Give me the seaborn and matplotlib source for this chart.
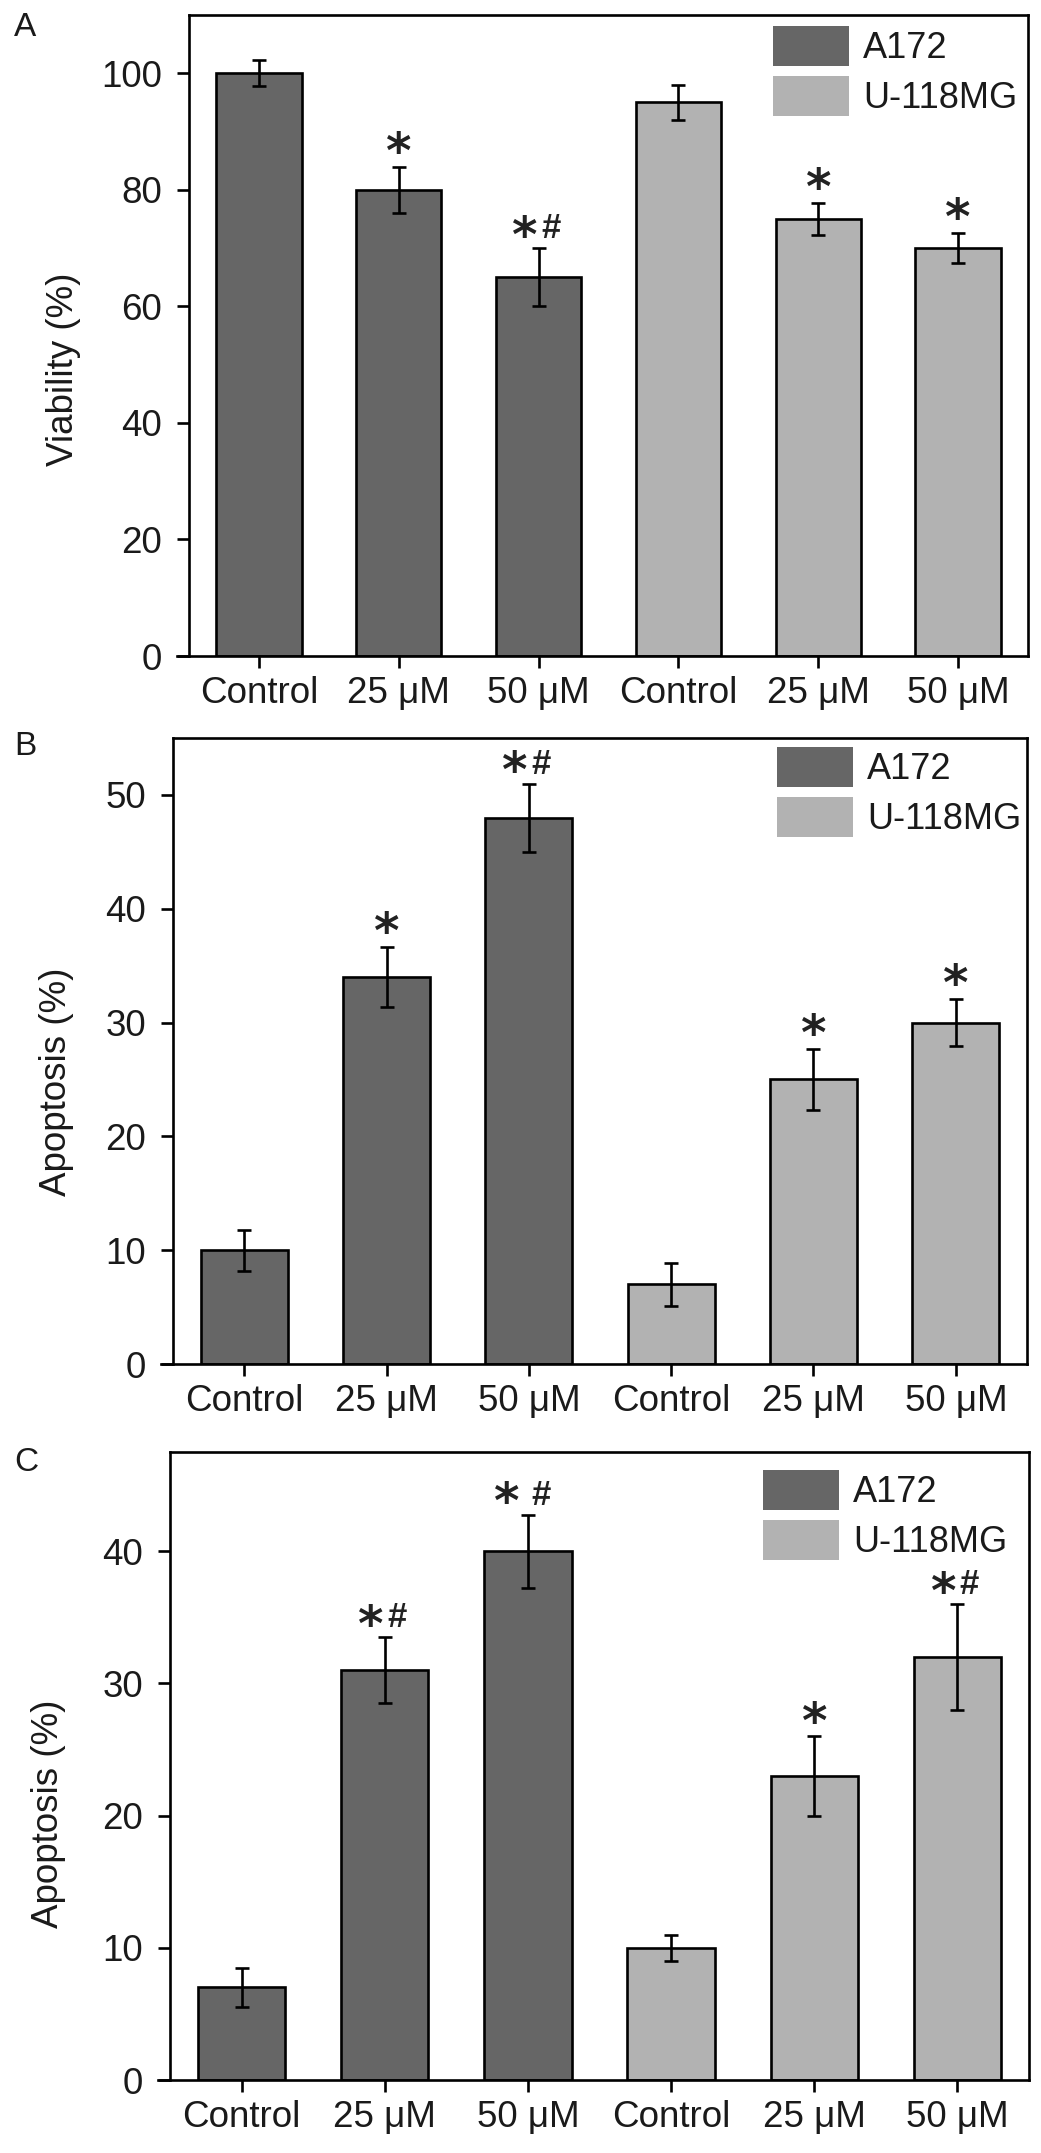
import numpy as np
import pandas as pd
import matplotlib
matplotlib.use("Agg")
import matplotlib.pyplot as plt
from matplotlib.patches import Patch
import seaborn as sns

# data
conditions = ["Control", "25 μM", "50 μM", "Control", "25 μM", "50 μM"]
cell_lines = ["A172", "A172", "A172", "U-118MG", "U-118MG", "U-118MG"]

viability = [100, 80, 65, 95, 75, 70]
viability_err = [2.2, 4, 5, 3, 2.8, 2.6]
viability_marks = ["", "*", "*#", "", "*", "*"]

apoptosis_b = [10, 34, 48, 7, 25, 30]
apoptosis_b_err = [1.8, 2.65, 3, 1.9, 2.7, 2.1]
apoptosis_b_marks = ["", "*", "*#", "", "*", "*"]

apoptosis_c = [7, 31, 40, 10, 23, 32]
apoptosis_c_err = [1.5, 2.5, 2.75, 1, 3, 4]
apoptosis_c_marks = ["", "*#", "* #", "", "*", "*#"]

dark = "#666666"
light = "#b2b2b2"
palette = {"A172": dark, "U-118MG": light}

sns.set_style("white")
plt.rcParams["font.family"] = ["Liberation Sans", "DejaVu Sans"]

W, H = 1041, 2153
fig = plt.figure(figsize=(W / 100, H / 100), dpi=100)


def px_axes(left, right, top, bottom):
    return fig.add_axes([left / W, 1 - bottom / H, (right - left) / W, (bottom - top) / H])


def panel(ax, values, errs, marks, ylim, yticks, ylabel, label_xy, legend_xy):
    df = pd.DataFrame({
        "key": [f"{c}|{i}" for i, c in enumerate(conditions)],
        "value": values,
        "cell": cell_lines,
    })
    sns.barplot(data=df, x="key", y="value", hue="cell", dodge=False,
                palette=palette, edgecolor="black", linewidth=1.9,
                width=0.61, legend=False, ax=ax)
    ax.errorbar(np.arange(len(values)), values, yerr=errs, fmt="none",
                ecolor="black", elinewidth=1.9, capsize=4.7, capthick=1.9, zorder=5)

    # significance marks
    star_kw = dict(textcoords="offset points", ha="center", va="baseline",
                   fontsize=35, fontweight="bold", family="DejaVu Sans", color="#222222")
    for i, (v, e, m) in enumerate(zip(values, errs, marks)):
        if not m:
            continue
        top = v + e
        if "#" in m:
            dx_star, dx_hash = (-21, 13) if " " in m else (-14, 12)
            ax.annotate("*", (i, top), xytext=(dx_star * 0.72, -2.5), **star_kw)
            ax.annotate("#", (i, top), xytext=(dx_hash * 0.72, 7), textcoords="offset points",
                        ha="center", va="baseline", fontsize=25, fontweight="bold",
                        color="#222222")
        else:
            ax.annotate("*", (i, top), xytext=(0, -1), **star_kw)

    ax.set_xlim(-0.5, 5.5)
    ax.set_ylim(*ylim)
    ax.set_yticks(yticks)
    ax.set_xticks(np.arange(len(conditions)))
    ax.set_xticklabels(conditions)
    ax.set_xlabel("")
    ax.set_ylabel(ylabel, fontsize=26.5, va="center", color="#1a1a1a")
    ax.yaxis.set_label_coords(*label_xy)

    for s in ax.spines.values():
        s.set_visible(True)
        s.set_linewidth(1.9)
        s.set_color("black")
    ax.spines["bottom"].set_bounds(-0.5 - 12 / 142, 5.5)
    ax.tick_params(axis="both", direction="out", length=8.6, width=1.9,
                   labelsize=26.5, color="black", labelcolor="#1a1a1a",
                   bottom=True, left=True, top=False, right=False)
    ax.tick_params(axis="y", pad=11)
    ax.tick_params(axis="x", pad=6)

    handles = [Patch(facecolor=dark, edgecolor="none"),
               Patch(facecolor=light, edgecolor="none")]
    ax.legend(handles, ["A172", "U-118MG"], loc="upper left", bbox_to_anchor=legend_xy,
              frameon=False, fontsize=26, handlelength=2.1, handleheight=1.33,
              handletextpad=0.4, labelspacing=0.27, borderpad=0, borderaxespad=0,
              labelcolor="#1a1a1a")


axA = px_axes(189, 1028, 15, 656)
panel(axA, viability, viability_err, viability_marks, (0, 110), range(0, 101, 20),
      "Viability (%)", (-0.150, 0.448), (0.696, 0.983))

axB = px_axes(173, 1027, 738, 1364)
panel(axB, apoptosis_b, apoptosis_b_err, apoptosis_b_marks, (0, 55), range(0, 51, 10),
      "Apoptosis (%)", (-0.136, 0.45), (0.707, 0.986))

axC = px_axes(170, 1029, 1452, 2080)
panel(axC, apoptosis_c, apoptosis_c_err, apoptosis_c_marks, (0, 47.5), range(0, 41, 10),
      "Apoptosis (%)", (-0.141, 0.424), (0.690, 0.971))

for letter, top in [("A", 12), ("B", 731), ("C", 1447)]:
    fig.text(14 / W, 1 - top / H, letter, va="top", ha="left", fontsize=24, color="#1a1a1a")

fig.savefig("out.png", dpi=100, facecolor="white")
